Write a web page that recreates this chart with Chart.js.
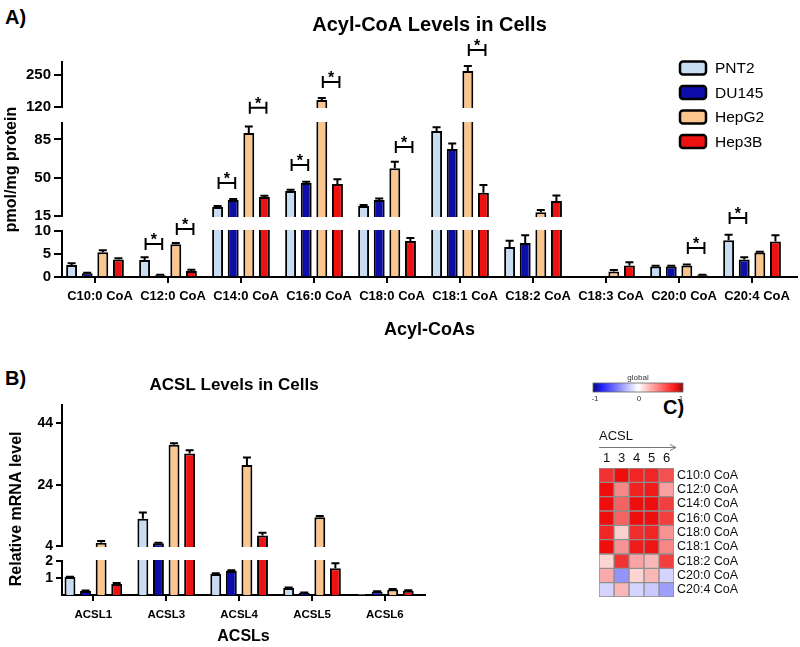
<!DOCTYPE html>
<html>
<head>
<meta charset="utf-8">
<script src="https://cdn.jsdelivr.net/npm/chart.js@4.4.1/dist/chart.umd.min.js"></script>
<style>
  body { margin: 0; background: #fff; }
  #page { position: relative; width: 800px; height: 647px; overflow: hidden; background: #fff; }
  canvas { position: absolute; }
  .tag { position: absolute; font: bold 20px "Liberation Sans", Arial, sans-serif; color: #000; }
</style>
</head>
<body>
<div id="page">
  <div class="tag" style="left:5px;top:6px">A)</div>
  <div class="tag" style="left:5px;top:367px">B)</div>
  <div class="tag" style="left:663px;top:396px">C)</div>
  <canvas id="Acyl" width="800" height="345" style="left:0;top:0"></canvas>
  <canvas id="Acsl" width="440" height="287" style="left:0;top:360px"></canvas>
  <canvas id="Heat" width="220" height="240" style="left:580px;top:370px"></canvas>
</div>
<script>
const cellLines = ['PNT2', 'DU145', 'HepG2', 'Hep3B'];
const lineColors = ['#c8dcf2', '#0d0daa', '#fbc58e', '#ee1111'];

// A) acyl-CoA, pmol/mg protein (mean and upper error)
const acylCoAs = ['C10:0 CoA', 'C12:0 CoA', 'C14:0 CoA', 'C16:0 CoA', 'C18:0 CoA', 'C18:1 CoA', 'C18:2 CoA', 'C18:3 CoA', 'C20:0 CoA', 'C20:4 CoA'];
const pnt2Acyl  = [2.6, 3.7, 23.2, 37.9, 24.1, 92.7, 6.5, null, 2.3, 8.0];
const du145Acyl = [0.8, 0.4, 29.6, 45.2, 29.6, 76.2, 7.4, null, 2.3, 3.8];
const hepg2Acyl = [5.4, 7.1, 90.9, 148, 58.6, 264, 18.4, 1.2, 2.5, 5.3];
const hep3bAcyl = [3.8, 1.3, 32.4, 44.2, 7.8, 36.3, 28.7, 2.5, 0.4, 7.7];
const pnt2AcylErr  = [0.4, 0.6, 1.0, 1.0, 1.0, 3.5, 1.4, 0, 0.15, 1.2];
const du145AcylErr = [0.15, 0.1, 1.0, 1.0, 1.5, 5.0, 1.7, 0, 0.15, 0.5];
const hepg2AcylErr = [0.4, 0.3, 6.0, 8.0, 6.0, 20, 2.0, 0.3, 0.2, 0.2];
const hep3bAcylErr = [0.3, 0.3, 1.0, 4.5, 0.7, 7.0, 5.0, 0.7, 0.1, 1.4];
const yTicksAcyl = [0, 5, 10, 15, 50, 85, 120, 250];
// significance: [category, bar a, bar b, height]
const sigAcyl = [[1, 0, 1, 7.2], [1, 2, 3, 10.7], [2, 0, 1, 45.2], [2, 2, 3, 119], [3, 0, 1, 61.6],
                 [3, 2, 3, 220], [4, 2, 3, 78.1], [5, 2, 3, 348], [8, 2, 3, 6.3], [9, 0, 1, 14.3]];

// B) ACSL relative mRNA
const acsls = ['ACSL1', 'ACSL3', 'ACSL4', 'ACSL5', 'ACSL6'];
const pnt2Acsl  = [1.06, 12.9, 1.24, 0.41, 0.05];
const du145Acsl = [0.24, 4.9, 1.41, 0.12, 0.2];
const hepg2Acsl = [5.1, 37.0, 30.4, 13.4, 0.33];
const hep3bAcsl = [0.65, 34.2, 7.4, 1.57, 0.25];
const pnt2AcslErr  = [0.02, 2.0, 0.04, 0.03, 0];
const du145AcslErr = [0.03, 0.2, 0.05, 0.02, 0.02];
const hepg2AcslErr = [0.5, 0.5, 2.5, 0.4, 0.03];
const hep3bAcslErr = [0.06, 1.0, 0.9, 0.3, 0.03];
const yTicksAcsl = [1, 2, 4, 24, 44];

// C) correlation heatmap
const heatCols = ['1', '3', '4', '5', '6'];
const heatRows = ['C10:0 CoA', 'C12:0 CoA', 'C14:0 CoA', 'C16:0 CoA', 'C18:0 CoA', 'C18:1 CoA', 'C18:2 CoA', 'C20:0 CoA', 'C20:4 CoA'];
const heatValues = [
  [0.85, 1.0, 0.9, 0.9, 0.72],
  [1.0, 0.5, 0.92, 0.95, 0.4],
  [1.0, 0.65, 1.0, 1.0, 0.8],
  [1.0, 0.65, 1.0, 1.0, 0.8],
  [0.9, 0.2, 0.87, 0.9, 0.45],
  [1.0, 0.45, 0.95, 0.97, 0.5],
  [0.18, 0.85, 0.38, 0.3, 0.8],
  [0.35, -0.5, 0.18, 0.3, -0.2],
  [-0.2, 0.3, -0.2, -0.25, -0.45]
];

Chart.defaults.font.family = '"Liberation Sans", Arial, sans-serif';
Chart.defaults.color = '#000';
Chart.defaults.animation = false;

// linear axis cut into pieces: [from, to, weight, isBreak]
class BrokenScale extends Chart.LinearScale {
	static id = 'broken';

	getPixelForValue(value) {
		if (value === null || value === undefined || isNaN(value)) return NaN;
		const segs = this.options.segments;
		const total = segs.reduce((s, g) => s + g[2], 0);
		let acc = 0;
		for (let i = 0; i < segs.length; i++) {
			const [lo, hi, w] = segs[i];
			if (value <= hi || i === segs.length - 1) {
				const f = (acc + (Math.max(value, lo) - lo) / (hi - lo) * w) / total;
				return this.bottom - f * (this.bottom - this.top);
			}
			acc += w;
		}
	}

	getValueForPixel(pixel) {
		const segs = this.options.segments;
		const total = segs.reduce((s, g) => s + g[2], 0);
		let pos = (this.bottom - pixel) / (this.bottom - this.top) * total;
		for (let i = 0; i < segs.length; i++) {
			const [lo, hi, w] = segs[i];
			if (pos <= w || i === segs.length - 1) return lo + pos / w * (hi - lo);
			pos -= w;
		}
	}
}
Chart.register(BrokenScale);

const panelDecor = {
	id: 'panelDecor',
	afterDatasetsDraw(chart, args, opts) {
		const ctx = chart.ctx;
		const y = chart.scales.y;
		const area = chart.chartArea;
		ctx.save();
		ctx.strokeStyle = '#000';
		ctx.lineWidth = 2;

		// error bars (upper only)
		chart.data.datasets.forEach((ds, d) => {
			chart.getDatasetMeta(d).data.forEach((bar, i) => {
				const v = ds.data[i].y, e = ds.errors[i];
				if (v === null || !e) return;
				const top = y.getPixelForValue(v + e);
				ctx.beginPath();
				ctx.moveTo(bar.x, bar.y);
				ctx.lineTo(bar.x, top);
				ctx.moveTo(bar.x - 4, top);
				ctx.lineTo(bar.x + 4, top);
				ctx.stroke();
			});
		});

		// axis breaks
		ctx.fillStyle = '#fff';
		y.options.segments.forEach(s => {
			if (!s[3]) return;
			const y0 = y.getPixelForValue(s[1]) + 1;
			const y1 = y.getPixelForValue(s[0]) - 1;
			ctx.fillRect(area.left - 4, y0, area.right - area.left + 8, y1 - y0);
		});

		// significance brackets
		ctx.fillStyle = '#000';
		ctx.font = 'bold 16px "Liberation Sans", Arial, sans-serif';
		ctx.textAlign = 'center';
		ctx.textBaseline = 'alphabetic';
		(opts.sig || []).forEach(([c, a, b, v]) => {
			const xa = chart.getDatasetMeta(a).data[c].x + 1;
			const xb = chart.getDatasetMeta(b).data[c].x + 2;
			const py = y.getPixelForValue(v);
			ctx.beginPath();
			ctx.moveTo(xa, py); ctx.lineTo(xb, py);
			ctx.moveTo(xa, py - 6); ctx.lineTo(xa, py + 6);
			ctx.moveTo(xb, py - 6); ctx.lineTo(xb, py + 6);
			ctx.stroke();
			ctx.fillText('*', (xa + xb) / 2, py + 1);
		});

		// legend
		if (opts.legend) {
			const L = opts.legend;
			ctx.font = '15.5px "Liberation Sans", Arial, sans-serif';
			ctx.textAlign = 'left';
			ctx.textBaseline = 'middle';
			chart.data.datasets.forEach((ds, d) => {
				const cy = L.y + d * L.step;
				ctx.beginPath();
				ctx.roundRect(L.x, cy - 6.5, 26, 13, 3);
				ctx.fillStyle = ds.backgroundColor;
				ctx.fill();
				ctx.lineWidth = 2.5;
				ctx.stroke();
				ctx.fillStyle = '#000';
				ctx.fillText(ds.label, L.x + 35, cy + 1);
			});
		}
		ctx.restore();
	}
};

function barSeries(k, values, errors) {
	return {
		label: cellLines[k],
		data: values.map((v, i) => ({x: i, y: v})),
		errors: errors,
		backgroundColor: lineColors[k],
		borderColor: '#000',
		borderWidth: 2,
		barPercentage: 0.7,
		categoryPercentage: 0.855
	};
}

function barOptions(cfg) {
	return {
		responsive: false,
		layout: {padding: cfg.padding},
		plugins: {
			legend: {display: false},
			tooltip: {enabled: false},
			title: {
				display: true,
				text: cfg.title,
				fullSize: false,
				font: {size: cfg.titleSize, weight: 'bold'},
				padding: cfg.titlePadding
			},
			panelDecor: {sig: cfg.sig, legend: cfg.legend}
		},
		scales: {
			x: {
				type: 'linear',
				min: cfg.xMin,
				max: cfg.xMax,
				offset: false,
				afterBuildTicks: s => { s.ticks = cfg.cats.map((_, i) => ({value: i})); },
				afterFit: s => { s.height = cfg.xHeight; },
				grid: {display: true, drawOnChartArea: false, offset: false, tickLength: 6, color: '#000', lineWidth: 2},
				border: {color: '#000', width: 2},
				ticks: {
					autoSkip: false, maxRotation: 0, padding: cfg.xPad, labelOffset: cfg.labelOffset,
					font: {size: cfg.xFont, weight: 'bold'},
					callback: (v, i) => cfg.cats[i]
				},
				title: {display: true, text: cfg.xTitle, font: {size: cfg.xTitleSize, weight: 'bold'}, padding: {top: 0, bottom: cfg.xTitlePad}}
			},
			y: {
				type: 'broken',
				min: 0,
				max: cfg.yMax,
				segments: cfg.segments,
				afterBuildTicks: s => { s.ticks = cfg.yTicks.map(v => ({value: v})); },
				afterFit: s => { s.width = 62; },
				grid: {drawOnChartArea: false, tickLength: cfg.yTick, color: '#000', lineWidth: 2},
				border: {color: '#000', width: 2},
				ticks: {autoSkip: false, padding: 3, font: {size: cfg.yFont, weight: 'bold'}, callback: v => String(v)},
				title: {display: true, text: cfg.yTitle, font: {size: 16, weight: 'bold'}, padding: {top: cfg.yTitlePad, bottom: 0}}
			}
		}
	};
}

new Chart(document.getElementById('Acyl'), {
	type: 'bar',
	data: {
		datasets: [
			barSeries(0, pnt2Acyl, pnt2AcylErr),
			barSeries(1, du145Acyl, du145AcylErr),
			barSeries(2, hepg2Acyl, hepg2AcylErr),
			barSeries(3, hep3bAcyl, hep3bAcylErr)
		]
	},
	options: barOptions({
		padding: {left: 0, right: 3, top: 0, bottom: 0},
		title: 'Acyl-CoA Levels in Cells', titleSize: 20, titlePadding: {top: 13, bottom: 25},
		sig: sigAcyl, legend: {x: 680, y: 68, step: 24.5},
		cats: acylCoAs, xMin: -0.452, xMax: 9.616, xHeight: 68, xPad: 6, labelOffset: 5, xFont: 13,
		xTitle: 'Acyl-CoAs', xTitleSize: 18, xTitlePad: 4,
		yMax: 300, segments: [[0, 10, 46], [10, 15, 15, true], [15, 100, 93], [100, 120, 16, true], [120, 300, 45]],
		yTicks: yTicksAcyl, yTick: 8, yFont: 15, yTitle: 'pmol/mg protein', yTitlePad: 1.5
	}),
	plugins: [panelDecor]
});

new Chart(document.getElementById('Acsl'), {
	type: 'bar',
	data: {
		datasets: [
			barSeries(0, pnt2Acsl, pnt2AcslErr),
			barSeries(1, du145Acsl, du145AcslErr),
			barSeries(2, hepg2Acsl, hepg2AcslErr),
			barSeries(3, hep3bAcsl, hep3bAcslErr)
		]
	},
	options: barOptions({
		padding: {left: 0, right: 15, top: 0, bottom: 0},
		title: 'ACSL Levels in Cells    ', titleSize: 17, titlePadding: {top: 15, bottom: 9.6},
		sig: [], legend: null,
		cats: acsls, xMin: -0.43, xMax: 4.55, xHeight: 52, xPad: 7, labelOffset: 0, xFont: 11.5,
		xTitle: 'ACSLs', xTitleSize: 16, xTitlePad: 0.5,
		yMax: 50, segments: [[0, 2, 34], [2, 4, 15, true], [4, 50, 141]],
		yTicks: yTicksAcsl, yTick: 6, yFont: 14, yTitle: 'Relative mRNA level    ', yTitlePad: 7
	}),
	plugins: [panelDecor]
});

function heatColor(v) {
	const t = Math.min(Math.abs(v), 1);
	const c = v >= 0 ? [238, 14, 14] : [40, 40, 255];
	const mix = i => Math.round(255 + (c[i] - 255) * t);
	return 'rgb(' + mix(0) + ',' + mix(1) + ',' + mix(2) + ')';
}

const heatDecor = {
	id: 'heatDecor',
	afterDraw(chart) {
		const ctx = chart.ctx;
		const area = chart.chartArea;
		ctx.save();
		// colour key
		const g = ctx.createLinearGradient(13, 0, 103, 0);
		g.addColorStop(0, '#0a0a78');
		g.addColorStop(0.1, '#2222ff');
		g.addColorStop(0.5, '#ffffff');
		g.addColorStop(0.9, '#ff1c1c');
		g.addColorStop(1, '#960c0c');
		ctx.fillStyle = g;
		ctx.fillRect(13, 13, 90, 9);
		ctx.strokeStyle = '#666';
		ctx.lineWidth = 0.8;
		ctx.strokeRect(13, 13, 90, 9);
		ctx.fillStyle = '#333';
		ctx.font = '8px "Liberation Sans", Arial, sans-serif';
		ctx.textAlign = 'center';
		ctx.textBaseline = 'middle';
		ctx.fillText('global', 58, 8);
		ctx.fillText('-1', 15, 29);
		ctx.fillText('0', 59, 29);
		ctx.fillText('1', 101, 29);
		// ACSL arrow
		ctx.strokeStyle = '#777';
		ctx.lineWidth = 1;
		ctx.beginPath();
		ctx.moveTo(area.left, 77.5);
		ctx.lineTo(area.right + 2, 77.5);
		ctx.moveTo(area.right - 4, 74.5);
		ctx.lineTo(area.right + 2, 77.5);
		ctx.lineTo(area.right - 4, 80.5);
		ctx.stroke();
		ctx.restore();
	}
};

new Chart(document.getElementById('Heat'), {
	type: 'bar',
	data: {
		labels: heatRows,
		datasets: heatCols.map((c, j) => ({
			label: 'ACSL' + c,
			data: heatRows.map(() => 1),
			backgroundColor: heatValues.map(r => heatColor(r[j])),
			borderColor: '#8e8e8e',
			borderWidth: 1,
			borderSkipped: false,
			barPercentage: 1,
			categoryPercentage: 1
		}))
	},
	options: {
		indexAxis: 'y',
		responsive: false,
		layout: {padding: {left: 19, top: 0, right: 0, bottom: 13}},
		plugins: {legend: {display: false}, tooltip: {enabled: false}},
		scales: {
			x: {
				type: 'linear', position: 'top', stacked: true, min: 0, max: 5,
				grid: {display: false, drawTicks: false}, border: {display: false},
				afterBuildTicks: s => { s.ticks = heatCols.map((_, j) => ({value: j + 0.5})); },
				afterFit: s => { s.height = 98; },
				ticks: {autoSkip: false, maxRotation: 0, padding: 2, font: {size: 13}, color: '#111', callback: (v, i) => heatCols[i]},
				title: {display: true, text: 'ACSL', align: 'start', color: '#111', font: {size: 13}, padding: {top: 59, bottom: 0}}
			},
			y: {
				position: 'right', stacked: true,
				grid: {display: false, drawTicks: false}, border: {display: false},
				afterFit: s => { s.width = 126; },
				ticks: {autoSkip: false, padding: 3, font: {size: 12.5}, color: '#111'}
			}
		}
	},
	plugins: [heatDecor]
});
</script>
</body>
</html>
